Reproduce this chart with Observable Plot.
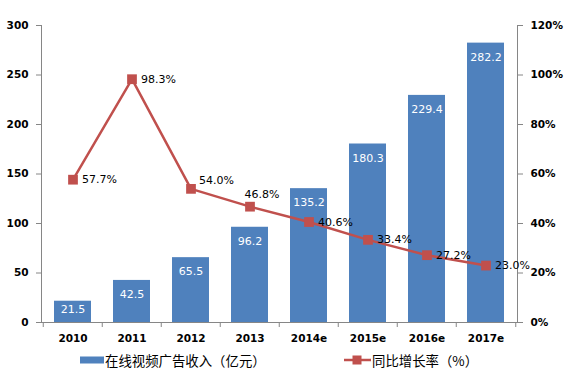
<!DOCTYPE html>
<html><head><meta charset="utf-8">
<script src="https://cdn.jsdelivr.net/npm/d3@7"></script>
<script src="https://cdn.jsdelivr.net/npm/@observablehq/plot@0.6"></script>
<style>
body{margin:0;background:#fff;font-family:"DejaVu Sans",sans-serif;}
#wrap{position:relative;width:572px;height:387px;}
.leg{position:absolute;top:350px;font-family:"Noto Sans CJK SC",sans-serif;font-size:13.4px;color:#000;display:flex;align-items:center;}
</style></head>
<body><div id="wrap"></div>
<script>
const years = ["2010","2011","2012","2013","2014e","2015e","2016e","2017e"];
const revenue = [21.5,42.5,65.5,96.2,135.2,180.3,229.4,282.2];
const growth = [57.7,98.3,54.0,46.8,40.6,33.4,27.2,23.0];
const leftTicks = [0,50,100,150,200,250,300];
const rightTicks = [0,20,40,60,80,100,120];
const seriesNames = ["在线视频广告收入（亿元）","同比增长率（%）"];

const k = 300/120;
const data = years.map((y,i)=>({year:y, v:revenue[i], g:growth[i], gy:growth[i]*k, i}));
const blue = "#4f81bd", red = "#c0504d", axisC = "#868686";
const step = (572-41-55)/8;

const chart = Plot.plot({
  width:572, height:345,
  marginLeft:41, marginRight:55, marginTop:25, marginBottom:23,
  style:{fontFamily:"DejaVu Sans, sans-serif", fontSize:"11px", color:"#000"},
  x:{domain:years, paddingInner:0.38, paddingOuter:0.19, label:null},
  y:{domain:[0,300], label:null},
  marks:[
    Plot.barY(data,{x:"year", y:"v", fill:blue}),
    Plot.text(data.filter(d=>d.v>=30),{x:"year", y:"v", text:d=>d.v.toFixed(1), fill:"white", dy:14, fontSize:11}),
    Plot.text(data.filter(d=>d.v<30),{x:"year", y:"v", text:d=>d.v.toFixed(1), fill:"white", dy:8, fontSize:11}),
    Plot.ruleY([0],{stroke:axisC}),
    Plot.frame({anchor:"left", stroke:axisC}),
    Plot.frame({anchor:"right", stroke:axisC}),
    Plot.axisY({ticks:leftTicks, anchor:"left", tickSize:5, stroke:axisC, fontWeight:"bold", fontSize:10.5, tickPadding:8, label:null}),
    Plot.axisY({ticks:rightTicks.map(t=>t*k), anchor:"right", tickSize:5, stroke:axisC, tickFormat:d=>Math.round(d/k)+"%", fontWeight:"bold", fontSize:10.5, tickPadding:8, label:null}),
    Plot.axisX({tickSize:0, tickPadding:12, fontWeight:"bold", fontSize:10.5, label:null}),
    Plot.axisX({tickSize:5, tickFormat:()=>"", dx:-step/2, stroke:axisC, label:null}),
    Plot.axisX({ticks:[years[years.length-1]], tickSize:5, tickFormat:()=>"", dx:step/2, stroke:axisC, label:null}),
    Plot.line(data,{x:"year", y:"gy", stroke:red, strokeWidth:2.5}),
    Plot.dot(data,{x:"year", y:"gy", symbol:"square", fill:red, r:5.5}),
    Plot.text(data.filter(d=>d.i!==2 && d.i!==3),{x:"year", y:"gy", text:d=>d.g.toFixed(1)+"%", textAnchor:"start", dx:9, fontSize:11, fill:"#000"}),
    Plot.text(data.filter(d=>d.i===2),{x:"year", y:"gy", text:d=>d.g.toFixed(1)+"%", textAnchor:"start", dx:8, dy:-8, fontSize:11, fill:"#000"}),
    Plot.text(data.filter(d=>d.i===3),{x:"year", y:"gy", text:d=>d.g.toFixed(1)+"%", textAnchor:"middle", dx:12, dy:-12, fontSize:11, fill:"#000"})
  ]
});
const wrap = document.getElementById("wrap");
wrap.appendChild(chart);

const l1 = document.createElement("div");
l1.className="leg"; l1.style.left="80px";
l1.innerHTML = `<svg width="25" height="18"><rect x="0" y="5.5" width="24" height="7" fill="${blue}"/></svg><span>${seriesNames[0]}</span>`;
wrap.appendChild(l1);
const l2 = document.createElement("div");
l2.className="leg"; l2.style.left="344px";
l2.innerHTML = `<svg width="28" height="18"><line x1="0" y1="9" x2="27" y2="9" stroke="${red}" stroke-width="2.5"/><rect x="8.5" y="4.5" width="9" height="9" fill="${red}"/></svg><span>${seriesNames[1]}</span>`;
wrap.appendChild(l2);
</script></body></html>
